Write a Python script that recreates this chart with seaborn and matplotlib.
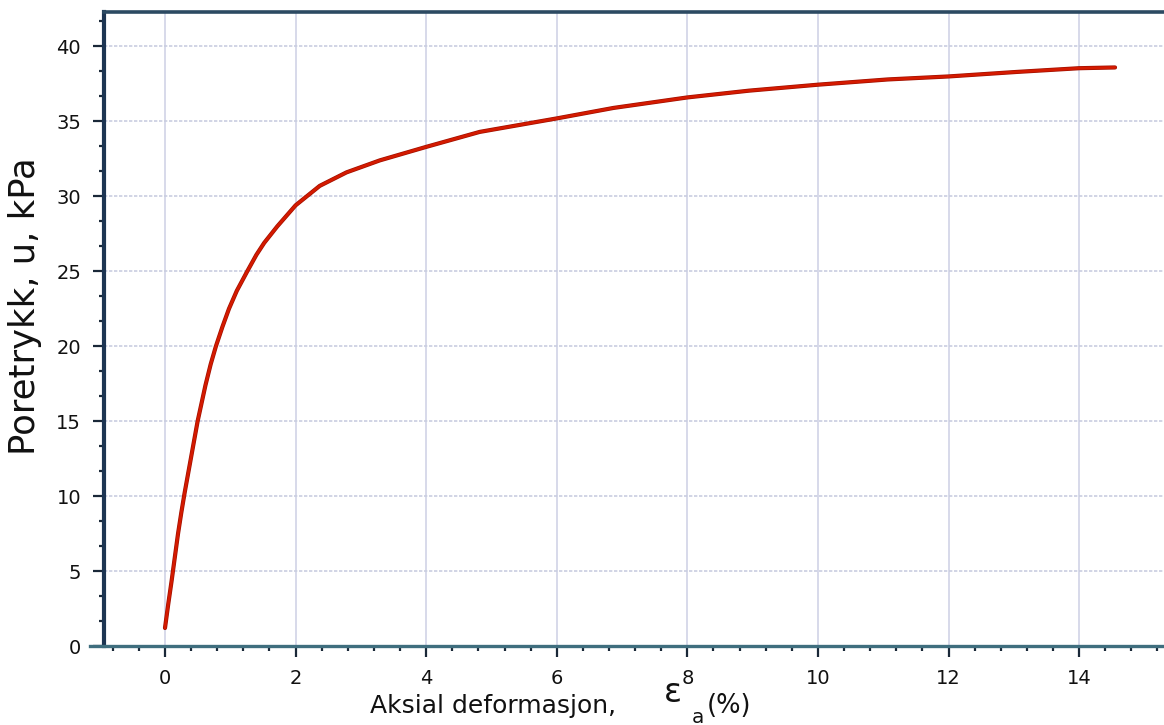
import matplotlib
matplotlib.use("Agg")
import matplotlib.pyplot as plt
import matplotlib.patheffects as pe
from matplotlib.ticker import MultipleLocator
import seaborn as sns
import pandas as pd

# ---- data ----
strain_pct = [0.00, 0.05, 0.10, 0.15, 0.20, 0.25, 0.30, 0.35, 0.40, 0.45,
              0.50, 0.56, 0.62, 0.70, 0.78, 0.88, 0.98, 1.10, 1.26, 1.40,
              1.52, 1.72, 2.00, 2.37, 2.78, 3.29, 4.00, 4.82, 6.00, 6.87,
              8.00, 8.94, 10.00, 11.07, 12.00, 13.04, 14.00, 14.55]
pore_kpa = [1.2, 2.8, 4.3, 5.9, 7.5, 8.9, 10.2, 11.4, 12.6, 13.8,
            15.0, 16.2, 17.4, 18.8, 20.0, 21.3, 22.5, 23.7, 25.0, 26.1,
            26.9, 28.0, 29.4, 30.7, 31.6, 32.4, 33.3, 34.3, 35.2, 35.9,
            36.6, 37.05, 37.45, 37.8, 38.0, 38.3, 38.55, 38.6]
x_ticks = [0, 2, 4, 6, 8, 10, 12, 14]
y_ticks = [0, 5, 10, 15, 20, 25, 30, 35, 40]
y_label = "Poretrykk, u, kPa"
x_label_text = "Aksial deformasjon,"

df = pd.DataFrame({"strain": strain_pct, "u": pore_kpa})

sns.set_theme(style="white")
plt.rcParams["font.family"] = ["DejaVu Sans"]

W, H = 1164, 725
fig = plt.figure(figsize=(W / 100, H / 100), dpi=100)
ax = fig.add_axes([104 / W, 1 - 646 / H, (W - 104) / W, (646 - 12) / H])

sns.lineplot(data=df, x="strain", y="u", ax=ax, color="#d41a00", lw=2.0,
             sort=False, estimator=None,
             path_effects=[pe.Stroke(linewidth=3.0, foreground="#a01000"), pe.Normal()])

ax.set_xlim(-0.934, 15.30)
ax.set_ylim(0, 42.3)
ax.set_xticks(x_ticks)
ax.set_yticks(y_ticks)
ax.xaxis.set_minor_locator(MultipleLocator(0.4))
ax.yaxis.set_minor_locator(MultipleLocator(5 / 3))

ax.xaxis.grid(True, which="major", color="#d4d7e8", lw=1.3, ls="-")
ax.yaxis.grid(True, which="major", color="#c9cde0", lw=1.2, ls=(0, (2, 1)))
ax.set_axisbelow(True)

ax.spines["right"].set_visible(False)
ax.spines["left"].set_color("#1d3552")
ax.spines["left"].set_linewidth(3)
ax.spines["top"].set_color("#2c4a62")
ax.spines["top"].set_linewidth(2.6)
ax.spines["bottom"].set_color("#3f6e7e")
ax.spines["bottom"].set_linewidth(2.4)
ax.spines["bottom"].set_bounds(-1.15, 15.30)

ax.tick_params(axis="both", which="major", direction="out", length=8,
               width=1.6, color="#1a2838", labelsize=14, labelcolor="#111111")
ax.tick_params(axis="x", which="major", pad=8.5)
ax.tick_params(axis="y", which="major", pad=8.5)
ax.tick_params(axis="both", which="minor", direction="out", length=3.5,
               width=1.6, color="#1a2838")
ax.tick_params(bottom=True, left=True, which="both")

ax.set_xlabel("")
ax.set_ylabel("")
fig.text(25 / W, 1 - 306 / H, y_label, fontsize=25.5, color="#111111",
         rotation=90, ha="center", va="center")

fig.text(370 / W, 1 - 713 / H, x_label_text, fontsize=18, color="#111111", va="baseline")
fig.text(664 / W, 1 - 702 / H, "\u03b5", fontsize=24, color="#111111", va="baseline")
fig.text(692 / W, 1 - 723 / H, "a", fontsize=14.5, color="#111111", va="baseline")
fig.text(707 / W, 1 - 713 / H, "(%)", fontsize=18.5, color="#111111", va="baseline")

fig.savefig("out.png", dpi=100, facecolor="white")
